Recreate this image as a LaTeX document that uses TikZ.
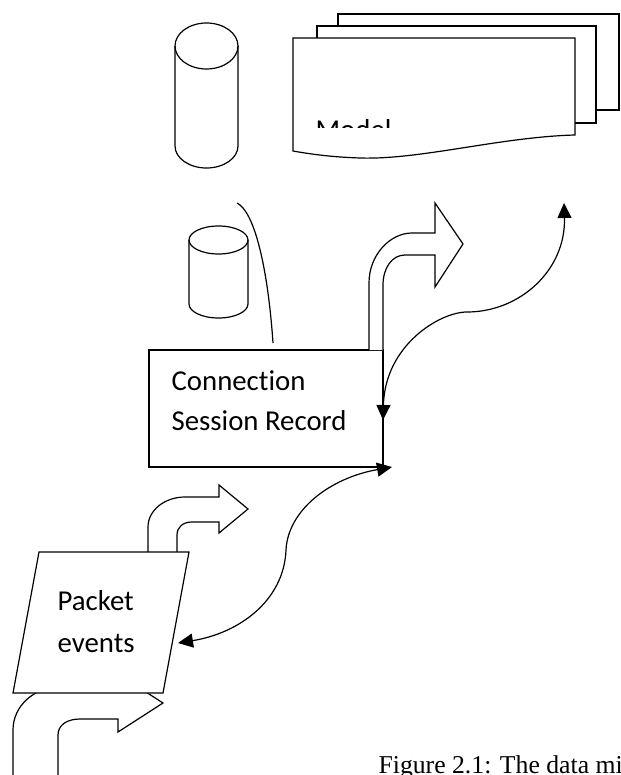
\documentclass[tikz,border=0pt]{standalone}
\usepackage{fontspec}
\setmainfont{Carlito}[Ligatures={NoCommon}]
\newfontfamily\capfont{Liberation Serif}
\usetikzlibrary{arrows.meta}
\begin{document}
\begin{tikzpicture}[x=1pt,y=-1pt, line width=1.2pt, line join=miter,
  shp/.style={draw=black, fill=white, line width=1.2pt},
  conn/.style={draw=black, line width=1.2pt, {Triangle[length=15pt,width=14pt]}-{Triangle[length=15pt,width=14pt]}},
  lbl/.style={inner sep=0pt, anchor=base west, font=\fontsize{28.8}{34}\selectfont}]
\clip (0,0) rectangle (620,775);

% stacked documents
\draw[shp] (338,14) rectangle (619,110);
\draw[shp] (317,26) rectangle (596,123);
\draw[shp] (293,38) -- (575,38) -- (575,135) .. controls (500,137) and (420,160) .. (360,158) .. controls (330,157) and (310,154) .. (293,151) -- cycle;
\begin{scope}
\clip (293,38) rectangle (575,128);
\node[lbl] (model) at (315,139.5) {Model};
\end{scope}

% large cylinder
\draw[shp] (175,46) -- (175,146) arc[start angle=180,end angle=0,x radius=31.5,y radius=22] -- (238,46);
\draw (206.5,46) ellipse[x radius=31.5,y radius=23];

% small cylinder
\draw[shp] (189,240) -- (189,304) arc[start angle=180,end angle=0,x radius=29.5,y radius=14] -- (248,240);
\draw (218.5,240) ellipse[x radius=29.5,y radius=14];

% connection session record box
\node[draw, line width=1.2pt, fill=white, minimum width=234pt, minimum height=117pt, inner sep=0pt] (csr) at (266,408.5) {};
\node[lbl] (t1) at (171,390) {Connection};
\node[lbl] (t2) at (171,430) {Session Record};

% thin curve
\coordinate (c1) at (237,203);
\coordinate (c2) at (273,343);
\draw (c1) .. controls (255,212) and (268,270) .. (c2);

% upper block arrow
\draw[shp] (369,350) -- (369,283) .. controls (369,255) and (390,233) .. (412,233) -- (435,233) -- (435,203) -- (463,244) -- (435,287) -- (435,255) -- (405,255) .. controls (392,255) and (383,268) .. (383,285) -- (383,350);

% bottom block arrow
\draw[shp] (13,780) -- (13,730) .. controls (13,706) and (34,687) .. (60,687) -- (118,687) -- (118,674) -- (163,703) -- (118,732) -- (118,719) -- (80,719) .. controls (67,719) and (58,725) .. (58,735) -- (58,780);

% packet block arrow
\draw[shp] (148,552) -- (148,527) .. controls (148,510) and (165,497) .. (185,497) -- (219,497) -- (219,485) -- (248,509) -- (219,533) -- (219,522) -- (192,522) .. controls (183,522) and (177,527) .. (177,535) -- (177,552);

% packet events parallelogram
\draw[shp] (39,552) -- (189,552) -- (163,693) -- (13,693) -- cycle;
\node[lbl] (p1) at (57,610) {Packet};
\node[lbl] (p2) at (57,652) {events};

% double-headed curved connectors
\coordinate (a1) at (383,420);
\coordinate (a2) at (564,203);
\draw[conn] (a1) .. controls (385,345) and (440,312) .. (467,312) .. controls (520,312) and (566,270) .. (a2);
\coordinate (b1) at (392,467);
\coordinate (b2) at (178,643);
\draw[conn] (b1) .. controls (330,478) and (288,510) .. (286,550) .. controls (284,600) and (240,633) .. (b2);

% caption (cut off at the right edge, as in the reference)
\node[inner sep=0pt, anchor=base west, font=\capfont\fontsize{25.7}{30}\selectfont] (cap) at (378,773) {Figure 2.1: The data mi};
\end{tikzpicture}
\end{document}
